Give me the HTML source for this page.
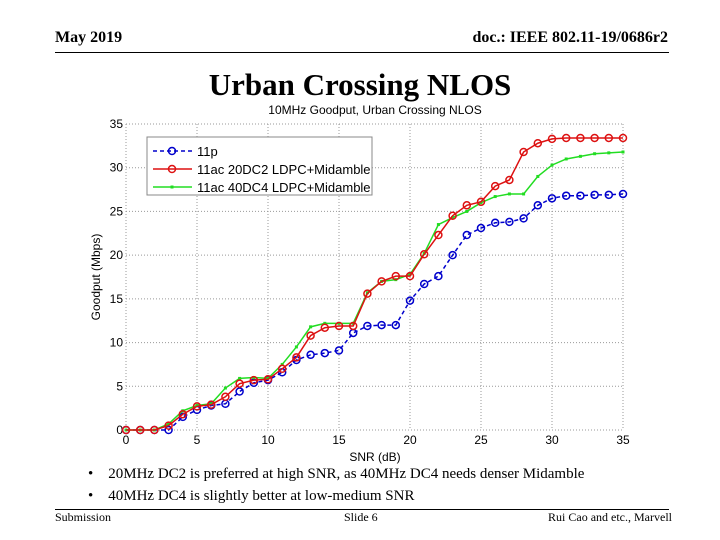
<!DOCTYPE html>
<html><head><meta charset="utf-8"><style>
body{margin:0;background:#fff;width:720px;height:540px;overflow:hidden;position:relative;font-family:"Liberation Serif",serif}
.t{position:absolute;white-space:nowrap}
</style></head><body>
<div class="t" style="left:55px;top:29px;font-size:16px;font-weight:bold">May 2019</div>
<div class="t" style="right:52px;top:29px;font-size:16px;font-weight:bold">doc.: IEEE 802.11-19/0686r2</div>
<div style="position:absolute;left:55px;top:52px;width:614px;height:1px;background:#000"></div>
<div class="t" style="left:0;width:720px;text-align:center;top:67px;font-size:31px;font-weight:bold">Urban Crossing NLOS</div>
<svg width="720" height="540" style="position:absolute;left:0;top:0" id="chart"></svg>
<div class="t" style="left:88px;top:466px;font-size:15px">•&nbsp;&nbsp;&nbsp;&nbsp;20MHz DC2 is preferred at high SNR, as 40MHz DC4 needs denser Midamble</div>
<div class="t" style="left:88px;top:488px;font-size:15px">•&nbsp;&nbsp;&nbsp;&nbsp;40MHz DC4 is slightly better at low-medium SNR</div>
<div style="position:absolute;left:55px;top:509px;width:614px;height:1px;background:#000"></div>
<div class="t" style="left:55px;top:510px;font-size:12px">Submission</div>
<div class="t" style="left:344px;top:510px;font-size:12px">Slide 6</div>
<div class="t" style="right:48px;top:510px;font-size:12px">Rui Cao and etc., Marvell</div>
<script>
const snr=[0,1,2,3,4,5,6,7,8,9,10,11,12,13,14,15,16,17,18,19,20,21,22,23,24,25,26,27,28,29,30,31,32,33,34,35];
const s11p=[0,0,0,0,1.5,2.3,2.8,3,4.4,5.4,5.7,6.6,8,8.6,8.8,9.1,11.1,11.9,12,12,14.8,16.7,17.6,20,22.3,23.1,23.7,23.8,24.2,25.7,26.5,26.8,26.8,26.9,26.9,27];
const s20dc2=[0,0,0,0.5,1.8,2.7,2.9,3.8,5.3,5.7,5.8,7,8.3,10.8,11.7,11.9,11.9,15.6,17,17.6,17.6,20.1,22.3,24.5,25.7,26.1,27.9,28.6,31.8,32.8,33.3,33.4,33.4,33.4,33.4,33.4];
const s40dc4=[0,0,0,0.7,2.2,2.8,3,4.8,5.9,6,5.9,7.5,9.5,11.8,12.2,12.2,12.2,15.7,17,17.2,17.8,20.2,23.5,24.3,25,26,26.7,27,27,29,30.3,31,31.3,31.6,31.7,31.8];
const xTicks=[0,5,10,15,20,25,30,35];
const yTicks=[0,5,10,15,20,25,30,35];
const X0=126,X1=623,Y0=430,Y1=124;
const sx=v=>X0+(v-0)/35*(X1-X0);
const sy=v=>Y0-(v-0)/35*(Y0-Y1);
const svg=document.getElementById('chart');
const NS='http://www.w3.org/2000/svg';
function mk(tag,attrs,parent){const e=document.createElementNS(NS,tag);for(const k in attrs)e.setAttribute(k,attrs[k]);(parent||svg).appendChild(e);return e;}
const F='"Liberation Sans",sans-serif';
let e;
e=mk('text',{x:375,y:114,'font-size':12,'text-anchor':'middle','font-family':F});e.textContent='10MHz Goodput, Urban Crossing NLOS';


xTicks.forEach(t=>{
 const g=mk('line',{x1:sx(t),x2:sx(t),y1:Y1,y2:Y0,stroke:'#999','stroke-dasharray':'1,2','stroke-width':1});
 
 
 const l=mk('text',{x:sx(t),y:Y0+14,'font-size':12,'text-anchor':'middle','font-family':F});l.textContent=t;
 
 
});
yTicks.forEach(t=>{
 const g=mk('line',{x1:X0,x2:X1,y1:sy(t),y2:sy(t),stroke:'#999','stroke-dasharray':'1,2','stroke-width':1});
 
 
 const l=mk('text',{x:X0-3,y:sy(t)+4,'font-size':12,'text-anchor':'end','font-family':F});l.textContent=t;
 
 
});
e=mk('text',{x:375,y:461,'font-size':12,'text-anchor':'middle','font-family':F});e.textContent='SNR (dB)';


e=mk('text',{x:0,y:0,'font-size':12,'text-anchor':'middle','font-family':F,transform:'translate(100,277) rotate(-90)'});e.textContent='Goodput (Mbps)';


function series(vals,color,dash,marker,name){
 const pts=snr.map((x,i)=>sx(x)+','+sy(vals[i])).join(' ');
 const p=mk('polyline',{points:pts,fill:'none',stroke:color,'stroke-width':1.5,'stroke-dasharray':dash});
 
 
 snr.forEach((x,i)=>{
  let m;
  if(marker==='o')m=mk('circle',{cx:sx(x),cy:sy(vals[i]),r:3.5,fill:'none',stroke:color,'stroke-width':1.5});
  else m=mk('rect',{x:sx(x)-1.5,y:sy(vals[i])-1.5,width:3,height:3,fill:color});
  
  
 });
}
series(s11p,'#0000cc','4,3','o','series-11p');
series(s40dc4,'#22dd22','none','x','series-40dc4');
series(s20dc2,'#dd1111','none','o','series-20dc2');
const lg=mk('rect',{x:147,y:137,width:225,height:58,fill:'#fff',stroke:'#888'});


const legItems=[['11p','#0000cc','4,3','o'],['11ac 20DC2 LDPC+Midamble','#dd1111','none','o'],['11ac 40DC4 LDPC+Midamble','#22dd22','none','x']];
legItems.forEach((it,i)=>{
 const y=151+i*18;
 const l=mk('line',{x1:153,x2:192,y1:y,y2:y,stroke:it[1],'stroke-width':1.5,'stroke-dasharray':it[2]});
 
 
 if(it[3]==='o')mk('circle',{cx:172,cy:y,r:3.5,fill:'none',stroke:it[1],'stroke-width':1.5});
 else mk('rect',{x:170.5,y:y-1.5,width:3,height:3,fill:it[1]});
 const t=mk('text',{x:197,y:y+5,'font-size':13,'font-family':F});t.textContent=it[0];
 
 
});
</script>
</body></html>
